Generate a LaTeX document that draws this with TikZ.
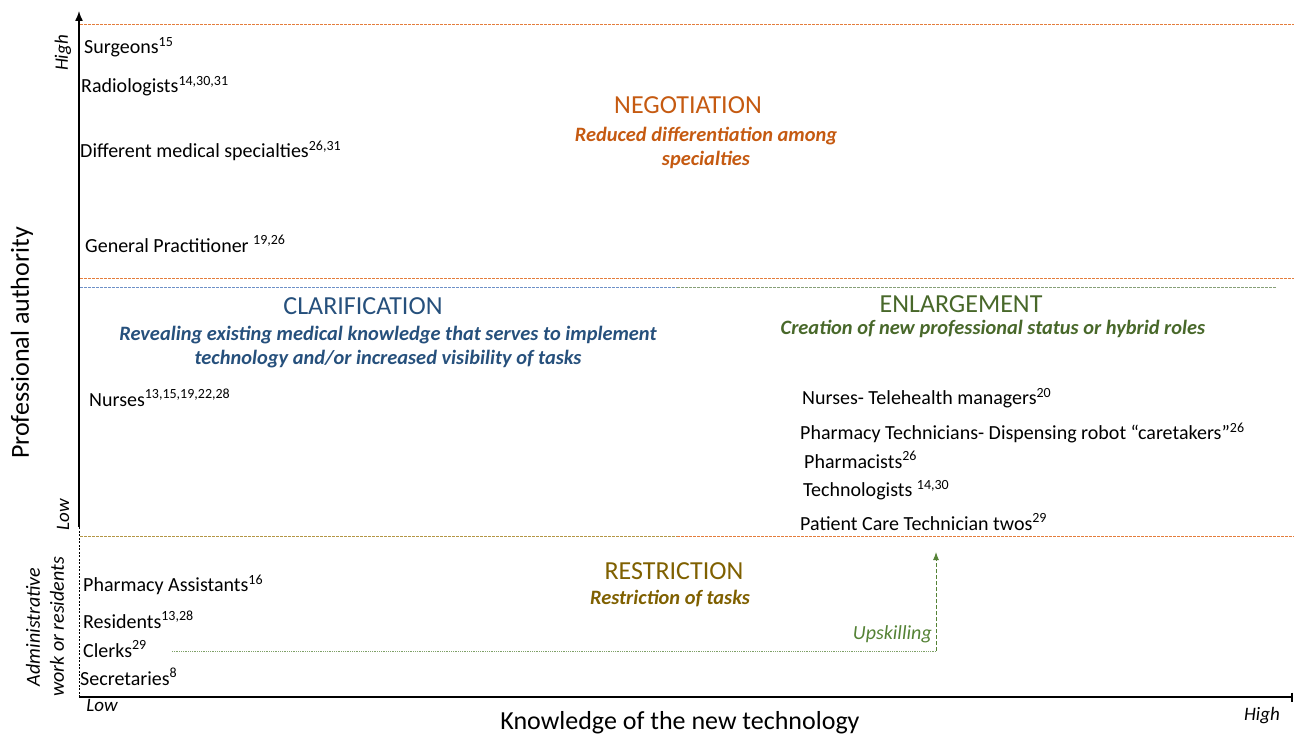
\documentclass[tikz,border=0pt]{standalone}
\usepackage{fontspec}
\setmainfont{Carlito}
\usetikzlibrary{arrows.meta}
\definecolor{negc}{RGB}{197,90,17}
\definecolor{clac}{RGB}{38,80,124}
\definecolor{enlc}{RGB}{72,104,42}
\definecolor{resc}{RGB}{127,96,0}
\definecolor{upc}{RGB}{84,130,53}
\definecolor{dorange}{RGB}{228,125,60}
\definecolor{dblue}{RGB}{110,145,200}
\definecolor{dgreen}{RGB}{135,160,120}
\definecolor{dolive}{RGB}{180,150,70}
\newcommand{\sps}[1]{\textsuperscript{#1}}
\tikzset{
  lbl/.style={anchor=west, inner sep=0pt, font=\fontsize{20}{24}\selectfont},
  ttl/.style={inner sep=0pt, font=\fontsize{26}{31}\selectfont},
  sub/.style={inner sep=0pt, align=center, font=\fontsize{20.4}{24}\selectfont\bfseries\itshape},
  axlbl/.style={inner sep=0pt, font=\fontsize{19}{23}\selectfont\itshape},
  bigl/.style={inner sep=0pt, font=\fontsize{26}{31}\selectfont},
  dline/.style={line width=1pt, dash pattern=on 2.5pt off 1.5pt},
}
\begin{document}
\begin{tikzpicture}[x=1pt,y=-1pt]
\useasboundingbox (0,0) rectangle (1294,735);
% dashed separators
\coordinate (l1a) at (80,25); \coordinate (l1b) at (1294,25);
\coordinate (l2a) at (80,279); \coordinate (l2b) at (1294,279);
\coordinate (l3a) at (80,288); \coordinate (l3m) at (677,288); \coordinate (l3b) at (1277,288);
\coordinate (l4a) at (80,536); \coordinate (l4m) at (677,536); \coordinate (l4b) at (1294,536);
\draw[dline, dorange] (l1a) -- (l1b);
\draw[dline, dorange] (l2a) -- (l2b);
\draw[dline, dblue] (l3a) -- (l3m);
\draw[dline, dgreen] (l3m) -- (l3b);
\draw[dline, dolive] (l4a) -- (l4m);
\draw[dline, dorange] (l4m) -- (l4b);
% axes
\coordinate (o) at (79,697);
\coordinate (ylow) at (79,527);
\coordinate (ytop) at (79,11);
\coordinate (xend) at (1293,697);
\draw[line width=0.6pt, dash pattern=on 2pt off 1.5pt] (o) -- (ylow);
\draw[line width=1.4pt, -{Latex[length=10pt,width=8pt]}] (ylow) -- (ytop);
\draw[line width=1.4pt, -{Bar[width=9pt,line width=1.6pt]}] (o) -- (xend);
% axis labels
\node[axlbl, rotate=90] (yhigh) at (63,53) {High};
\node[axlbl, rotate=90] (ylowl) at (63,515) {Low};
\node[bigl, rotate=90] (ylab) at (22,343) {Professional authority};
\node[axlbl, rotate=90, align=center, font=\fontsize{20}{24}\selectfont\itshape] (adm) at (45,627) {Administrative\\work or residents};
\node[axlbl] (xlowl) at (102,705) {Low};
\node[axlbl] (xhigh) at (1262,716) {High};
\node[bigl] (xlab) at (680,723) {Knowledge of the new technology};
% quadrant titles
\node[ttl, text=negc] (neg) at (688,105) {NEGOTIATION};
\node[sub, text=negc] (negs) at (706,148) {Reduced differentiation among\\specialties};
\node[ttl, text=clac] (cla) at (363,306) {CLARIFICATION};
\node[sub, text=clac] (clas) at (388,347) {Revealing existing medical knowledge that serves to implement\\technology and/or increased visibility of tasks};
\node[ttl, text=enlc] (enl) at (961,304) {ENLARGEMENT};
\node[sub, text=enlc] (enls) at (993,329) {Creation of new professional status or hybrid roles};
\node[ttl, text=resc] (res) at (674,571) {RESTRICTION};
\node[sub, text=resc] (ress) at (670,599) {Restriction of tasks};
% professions
\node[lbl] (surg) at (84,47) {Surgeons\sps{15}};
\node[lbl] (rad) at (81,86) {Radiologists\sps{14,30,31}};
\node[lbl] (diff) at (80,151) {Different medical specialties\sps{26,31}};
\node[lbl] (gp) at (85,244) {General Practitioner \sps{19,26}};
\node[lbl] (nur) at (89,398) {Nurses\sps{13,15,19,22,28}};
\node[lbl] (tele) at (802,398) {Nurses- Telehealth managers\sps{20}};
\node[lbl] (ptech) at (800,433) {Pharmacy Technicians- Dispensing robot “caretakers”\sps{26}};
\node[lbl] (pharm) at (804,460) {Pharmacists\sps{26}};
\node[lbl] (techn) at (803,490) {Technologists \sps{14,30}};
\node[lbl] (pct) at (800,522) {Patient Care Technician twos\sps{29}};
\node[lbl] (pa) at (83,585) {Pharmacy Assistants\sps{16}};
\node[lbl] (resid) at (83,620) {Residents\sps{13,28}};
\node[lbl] (clerk) at (83,649) {Clerks\sps{29}};
\node[lbl] (secr) at (80,677) {Secretaries\sps{8}};
% upskilling
\coordinate (us) at (172,651);
\coordinate (uc) at (936,651);
\coordinate (ue) at (936,552);
\draw[upc!75, line width=0.9pt, dash pattern=on 1pt off 0.8pt] (us) -- (uc);
\draw[upc, line width=1pt, dash pattern=on 4pt off 2pt, -{Latex[length=8pt,width=6pt]}] (uc) -- (ue);
\node[axlbl, text=upc, anchor=east, font=\fontsize{20}{24}\selectfont\itshape] (upl) at (932,634) {Upskilling};
\end{tikzpicture}
\end{document}
